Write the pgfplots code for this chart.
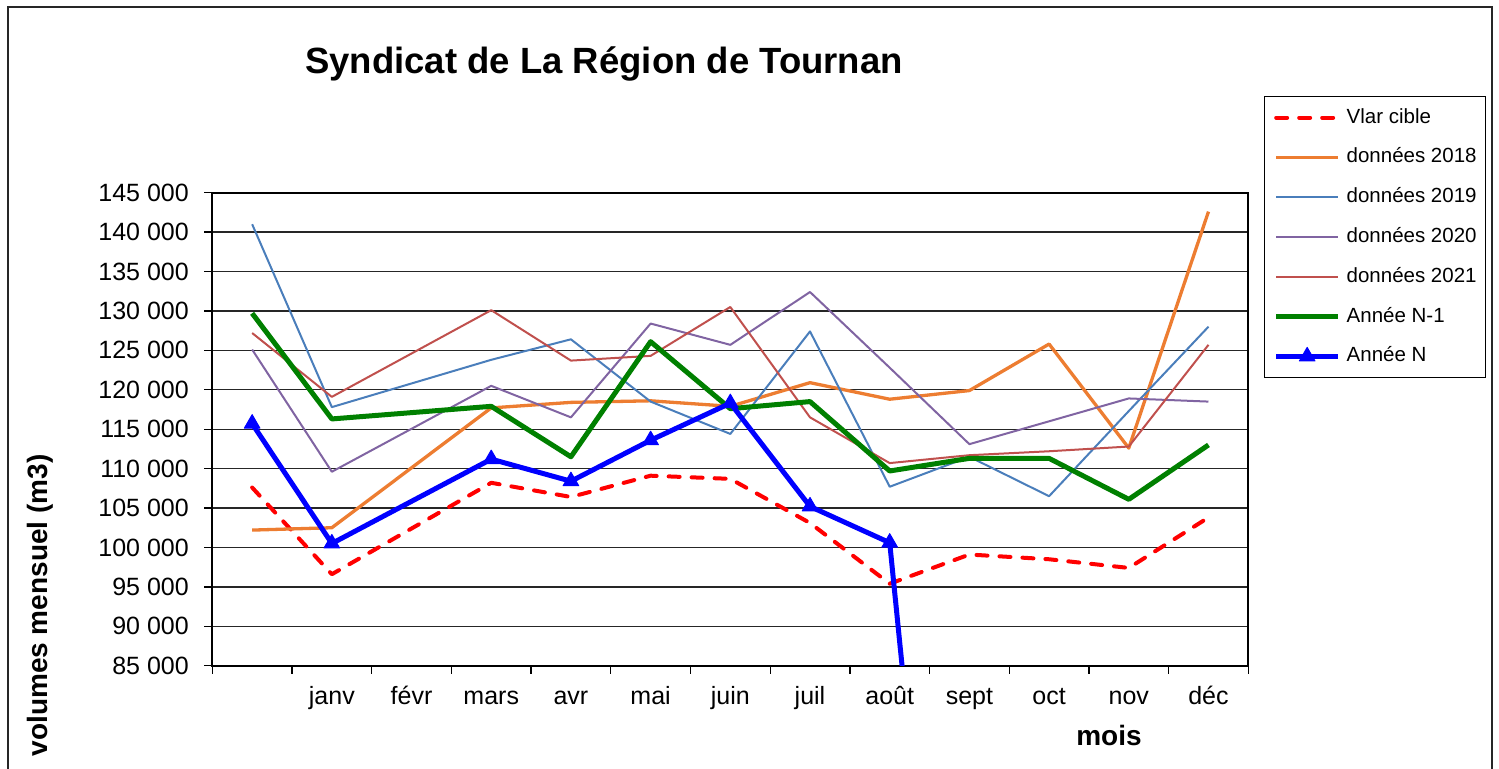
\documentclass[border=0pt]{standalone}
\usepackage{pgfplots}
\pgfplotsset{compat=1.18}
\usepackage{fontspec}
\setmainfont{Liberation Sans}
\definecolor{c2018}{RGB}{237,125,49}
\definecolor{c2019}{RGB}{74,126,187}
\definecolor{c2020}{RGB}{128,100,162}
\definecolor{c2021}{RGB}{192,80,77}
\definecolor{cN1}{RGB}{0,128,0}
\begin{document}
\begin{tikzpicture}[x=1bp,y=1bp]
\draw[line width=1.5bp, black!85] (8,761) rectangle (1492,-20);
\node[anchor=base, font=\fontsize{36.5bp}{40bp}\selectfont\bfseries] at (604,694) {Syndicat de La Région de Tournan};
\begin{axis}[
  at={(212.3bp,102.3bp)}, anchor=south west,
  scale only axis, width=1036bp, height=473bp,
  xmin=-0.5, xmax=12.5, ymin=85000, ymax=145000,
  xtick={0,...,12},
  xticklabels={{},janv,févr,mars,avr,mai,juin,juil,août,sept,oct,nov,déc},
  minor xtick={-0.5,0.5,...,12.5},
  ytick={85000,90000,...,145000},
  yticklabels={85 000,90 000,95 000,100 000,105 000,110 000,115 000,120 000,125 000,130 000,135 000,140 000,145 000},
  scaled y ticks=false,
  tick align=outside, tick pos=left,
  major tick length=8bp, minor tick length=8bp,
  tick style={black, line width=1.3bp},
  major x tick style={draw=none},
  ymajorgrids, major grid style={black!85, line width=1.3bp},
  axis line style={black, line width=2bp},
  tick label style={font=\fontsize{25bp}{30bp}\selectfont},
  xticklabel style={anchor=base, yshift=-31.3bp},
  yticklabel style={xshift=-12bp},
  legend style={
    at={(1.01515,1.2044)}, anchor=north west,
    draw=black, line width=1.3bp, fill=white,
    inner xsep=9bp, inner ysep=11bp,
    font=\fontsize{20.5bp}{25bp}\selectfont,
    row sep=19.8bp,
    nodes={inner sep=0pt, text height=15.5bp, text depth=4.5bp},
    /tikz/every odd column/.append style={column sep=6bp},
  },
  legend cell align=left,
  legend image code/.code={\draw[mark repeat=2,mark phase=2,#1] plot coordinates {(0bp,0bp) (31bp,0bp) (62bp,0bp)};},
]
\addplot[red, line width=4bp, line cap=round, line join=round, dash pattern=on 11bp off 12bp] coordinates {
(0,107600) (1,96600) (3,108200) (4,106400) (5,109100) (6,108700) (7,103100) (8,95400) (9,99100) (10,98500) (11,97400) (12,103800)};
\addlegendentry{Vlar cible}
\addplot[c2018, line width=3.3bp, line join=round] coordinates {
(0,102200) (1,102500) (3,117700) (4,118400) (5,118600) (6,117900) (7,120900) (8,118800) (9,119900) (10,125800) (11,112600) (12,142600)};
\addlegendentry{données 2018}
\addplot[c2019, line width=2bp, line join=round] coordinates {
(0,141000) (1,117800) (3,123800) (4,126400) (5,118500) (6,114400) (7,127400) (8,107700) (9,111500) (10,106500) (11,117300) (12,128000)};
\addlegendentry{données 2019}
\addplot[c2020, line width=2bp, line join=round] coordinates {
(0,125100) (1,109600) (3,120500) (4,116500) (5,128400) (6,125700) (7,132400) (8,122800) (9,113100) (10,116000) (11,118900) (12,118500)};
\addlegendentry{données 2020}
\addplot[c2021, line width=2bp, line join=round] coordinates {
(0,127200) (1,119100) (3,130100) (4,123700) (5,124300) (6,130500) (7,116500) (8,110700) (9,111700) (10,112200) (11,112800) (12,125700)};
\addlegendentry{données 2021}
\addplot[cN1, line width=5bp, line join=round] coordinates {
(0,129700) (1,116300) (3,117900) (4,111500) (5,126100) (6,117600) (7,118500) (8,109700) (9,111300) (10,111300) (11,106100) (12,113000)};
\addlegendentry{Année N-1}
\addplot[blue, line width=5bp, line join=round, mark=triangle*, mark size=9bp, mark options={solid, line width=1bp}] coordinates {
(0,115700) (1,100500) (3,111200) (4,108400) (5,113600) (6,118300) (7,105200) (8,100600) (9,0)};
\addlegendentry{Année N}
\end{axis}
\node[anchor=base, font=\fontsize{28bp}{32bp}\selectfont\bfseries] at (1109,22) {mois};
\node[rotate=90, anchor=base, font=\fontsize{28bp}{32bp}\selectfont\bfseries] at (47.5,162.5) {volumes mensuel (m3)};
\pgfresetboundingbox
\useasboundingbox (0,0) rectangle (1499,768);
\end{tikzpicture}
\end{document}
